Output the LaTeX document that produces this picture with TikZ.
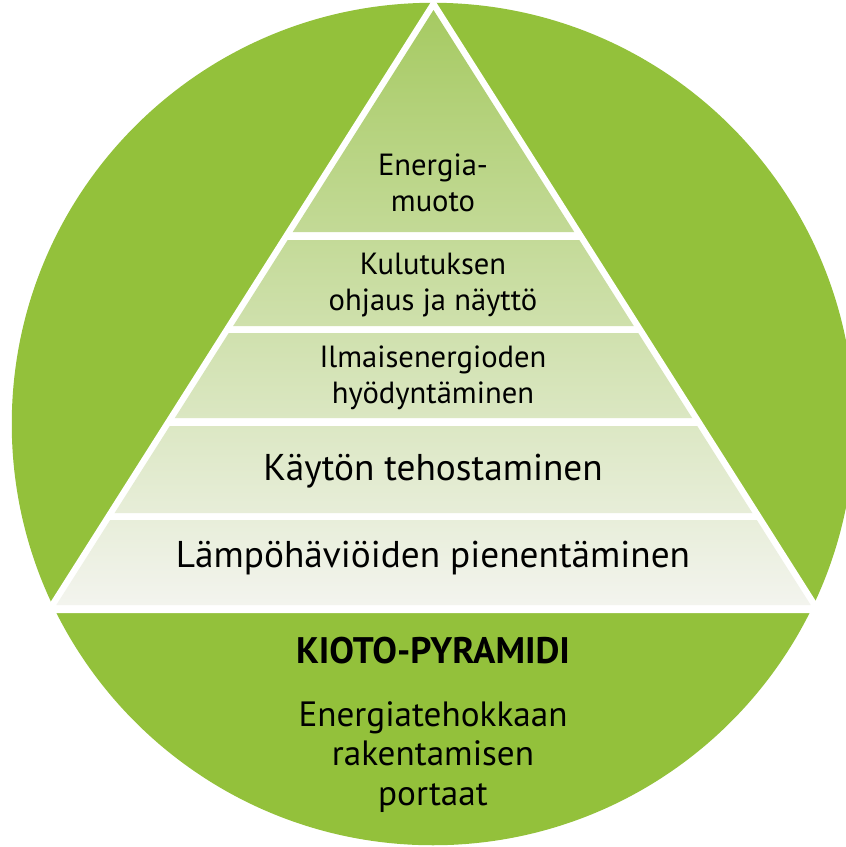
\documentclass[tikz,border=0pt]{standalone}
\usepackage{fontspec}
\setmainfont{PT Sans}
\usetikzlibrary{positioning}
\definecolor{kiotogreen}{RGB}{147,193,59}
\definecolor{layertop}{RGB}{166,202,98}
\definecolor{layermid}{RGB}{205,224,168}
\definecolor{layerbottom}{RGB}{243,244,238}

\begin{document}
\begin{tikzpicture}[x=0.01cm,y=-0.01cm,
		backdrop/.style={fill=kiotogreen},
		gap/.style={fill=white},
		layers/.style={top color=layertop,middle color=layermid,bottom color=layerbottom},
		steplabel/.style={align=center,anchor=base,inner sep=0pt,font=\fontsize{8.7}{10.2}\selectfont},
		widelabel/.style={anchor=base,inner sep=0pt,font=\fontsize{10.6}{12}\selectfont},
		titlelabel/.style={anchor=base,inner sep=0pt,font=\bfseries\fontsize{10.5}{11}\selectfont},
		captionlabel/.style={align=center,anchor=base,inner sep=0pt,font=\fontsize{10}{11.2}\selectfont},
	]
	\useasboundingbox (0,0) rectangle (846,847);
	% Draw circle and pyramid frame
	\fill[backdrop] (433,424) circle[radius=4.21cm];
	\fill[gap] (433.5,-2) -- (43.6,613) -- (823.4,613) -- cycle;
	% Draw pyramid layers
	\begin{scope}
		\clip (433.5,10) -- (56.3,605) -- (810.7,605) -- cycle;
		\shade[layers] (40,10) rectangle (830,232) (40,240) rectangle (830,326)
			(40,333) rectangle (830,418) (40,426) rectangle (830,513) (40,520) rectangle (830,605);
	\end{scope}
	% Draw labels (base = last line)
	\node (muoto) [steplabel] at (433,211) {Energia-\\muoto};
	\node (ohjaus) [steplabel] at (433,310) {Kulutuksen\\ohjaus ja näyttö};
	\node (ilmainen) [steplabel] at (433,403) {Ilmaisenergioden\\hyödyntäminen};
	\node (kaytto) [widelabel] at (433,480) {Käytön tehostaminen};
	\node (lampo) [widelabel] at (433,567) {Lämpöhäviöiden pienentäminen};
	\node (kioto) [titlelabel] at (433,663) {KIOTO-PYRAMIDI};
	\node (portaat) [captionlabel] at (433,805) {Energiatehokkaan\\rakentamisen\\portaat};
\end{tikzpicture}
\end{document}
